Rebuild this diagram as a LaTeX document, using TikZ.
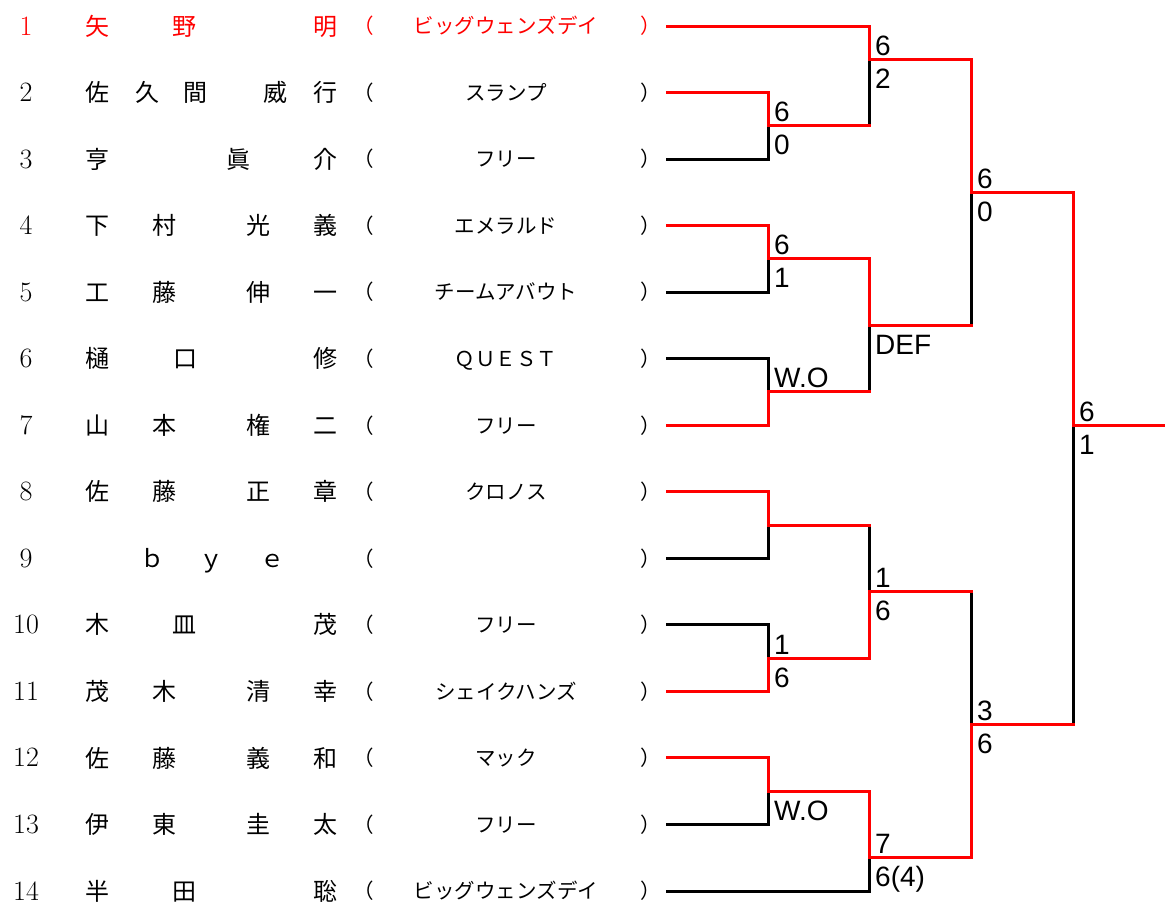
\documentclass[tikz,border=0pt]{standalone}
\usepackage{fontspec}
\newfontfamily\cjk{Noto Sans CJK JP}
\newfontfamily\scfont{Liberation Sans}
\definecolor{wred}{HTML}{FF0000}
\tikzset{
  numst/.style={font=\rmfamily\fontsize{28}{32}\selectfont, inner sep=0pt, anchor=base},
  nmst/.style={font=\cjk\fontsize{24}{28}\selectfont, inner sep=0pt, anchor=base},
  tmst/.style={font=\cjk\fontsize{20.5}{24}\selectfont, inner sep=0pt, anchor=base},
  sc/.style={font=\scfont\fontsize{28}{32}\selectfont, inner sep=0pt, anchor=base west, text=black},
  scup/.style={sc, xshift=6pt, yshift=4pt},
  scdn/.style={sc, xshift=6pt, yshift=-29pt},
  lose/.style={draw=black, line width=3pt, line cap=rect, line join=miter},
  win/.style={draw=wred, line width=3pt, line cap=rect, line join=miter},
}
\newcommand\entryrow[3]{%
  \pgfmathsetmacro\ry{26+(#1-1)*66.5385}
  \node[numst, text=#2] (num#1) at (26,\ry+9) {#1};
  \node[tmst, text=#2, anchor=base east] (lp#1) at (374,\ry+7.8) {（};
  \node[tmst, text=#2, anchor=base west] (rp#1) at (640,\ry+7.8) {）};
  \node[tmst, text=#2] (tm#1) at (506,\ry+7.8) {#3};
  \coordinate (e#1) at (667,\ry);
}
\newcommand\nc[4]{%
  \node[nmst, text=#2] (n#1-#3) at (#3,{26+(#1-1)*66.5385+9.1}) {#4};
}
\begin{document}
\begin{tikzpicture}[x=1pt,y=-1pt]
\fill[white] (0,0) rectangle (1165,906);
\useasboundingbox (0,0) rectangle (1165,906);

\entryrow{1}{wred}{ビッグウェンズデイ}
\entryrow{2}{black}{スランプ}
\entryrow{3}{black}{フリー}
\entryrow{4}{black}{エメラルド}
\entryrow{5}{black}{チームアバウト}
\entryrow{6}{black}{ＱＵＥＳＴ}
\entryrow{7}{black}{フリー}
\entryrow{8}{black}{クロノス}
\entryrow{9}{black}{}
\entryrow{10}{black}{フリー}
\entryrow{11}{black}{シェイクハンズ}
\entryrow{12}{black}{マック}
\entryrow{13}{black}{フリー}
\entryrow{14}{black}{ビッグウェンズデイ}

% names
\nc{1}{wred}{97}{矢}\nc{1}{wred}{184}{野}\nc{1}{wred}{325}{明}
\nc{2}{black}{97}{佐}\nc{2}{black}{147}{久}\nc{2}{black}{195}{間}\nc{2}{black}{275}{威}\nc{2}{black}{325}{行}
\nc{3}{black}{97}{亨}\nc{3}{black}{238}{眞}\nc{3}{black}{325}{介}
\nc{4}{black}{97}{下}\nc{4}{black}{164}{村}\nc{4}{black}{258}{光}\nc{4}{black}{325}{義}
\nc{5}{black}{97}{工}\nc{5}{black}{164}{藤}\nc{5}{black}{258}{伸}\nc{5}{black}{325}{一}
\nc{6}{black}{97}{樋}\nc{6}{black}{185}{口}\nc{6}{black}{325}{修}
\nc{7}{black}{97}{山}\nc{7}{black}{164}{本}\nc{7}{black}{258}{権}\nc{7}{black}{325}{二}
\nc{8}{black}{97}{佐}\nc{8}{black}{164}{藤}\nc{8}{black}{258}{正}\nc{8}{black}{325}{章}
\nc{9}{black}{152}{ｂ}\nc{9}{black}{211}{ｙ}\nc{9}{black}{272}{ｅ}
\nc{10}{black}{97}{木}\nc{10}{black}{184}{皿}\nc{10}{black}{325}{茂}
\nc{11}{black}{97}{茂}\nc{11}{black}{164}{木}\nc{11}{black}{258}{清}\nc{11}{black}{325}{幸}
\nc{12}{black}{97}{佐}\nc{12}{black}{164}{藤}\nc{12}{black}{258}{義}\nc{12}{black}{325}{和}
\nc{13}{black}{97}{伊}\nc{13}{black}{164}{東}\nc{13}{black}{258}{圭}\nc{13}{black}{325}{太}
\nc{14}{black}{97}{半}\nc{14}{black}{184}{田}\nc{14}{black}{325}{聡}

% junctions
\coordinate (m23) at (768,125.81);
\coordinate (m45) at (768,258.88);
\coordinate (m67) at (768,391.96);
\coordinate (m89) at (768,525.04);
\coordinate (m1011) at (768,658.12);
\coordinate (m1213) at (768,791.19);
\coordinate (s1) at (869,59.27);
\coordinate (s2) at (869,325.42);
\coordinate (s3) at (869,591.58);
\coordinate (s4) at (869,857.73);
\coordinate (q1) at (971,192.35);
\coordinate (q2) at (971,724.65);
\coordinate (fin) at (1073,425.23);
\coordinate (champ) at (1165,425.23);

% losers
\draw[lose] (e3) -| (m23);
\draw[lose] (e5) -| (m45);
\draw[lose] (e6) -| (m67);
\draw[lose] (e9) -| (m89);
\draw[lose] (e10) -| (m1011);
\draw[lose] (e13) -| (m1213);
\draw[lose] (e14) -| (s4);
\draw[lose] (m23) -| (s1);
\draw[lose] (m67) -| (s2);
\draw[lose] (m89) -| (s3);
\draw[lose] (s2) -| (q1);
\draw[lose] (s3) -| (q2);
\draw[lose] (q2) -| (fin);

% winners
\draw[win] (e1) -| (s1) -| (q1) -| (fin) -- (champ);
\draw[win] (e2) -| (m23) -- (m23 -| s1);
\draw[win] (e4) -| (m45) -| (s2) -- (s2 -| q1);
\draw[win] (e7) -| (m67) -- (m67 -| s2);
\draw[win] (e8) -| (m89) -- (m89 -| s3);
\draw[win] (e11) -| (m1011) -| (s3) -- (s3 -| q2);
\draw[win] (e12) -| (m1213) -| (s4) -| (q2) -- (q2 -| fin);

% scores
\node[scup] (l23a) at (m23) {6};
\node[scdn] (l23b) at (m23) {0};
\node[scup] (l45a) at (m45) {6};
\node[scdn] (l45b) at (m45) {1};
\node[scup] (l67a) at (m67) {W.O};
\node[scup] (l1011a) at (m1011) {1};
\node[scdn] (l1011b) at (m1011) {6};
\node[scdn] (l1213b) at (m1213) {W.O};
\node[scup] (ls1a) at (s1) {6};
\node[scdn] (ls1b) at (s1) {2};
\node[scdn] (ls2b) at (s2) {DEF};
\node[scup] (ls3a) at (s3) {1};
\node[scdn] (ls3b) at (s3) {6};
\node[scup] (ls4a) at (s4) {7};
\node[scdn] (ls4b) at (s4) {6(4)};
\node[scup] (lq1a) at (q1) {6};
\node[scdn] (lq1b) at (q1) {0};
\node[scup] (lq2a) at (q2) {3};
\node[scdn] (lq2b) at (q2) {6};
\node[scup] (lfa) at (fin) {6};
\node[scdn] (lfb) at (fin) {1};
\end{tikzpicture}
\end{document}
